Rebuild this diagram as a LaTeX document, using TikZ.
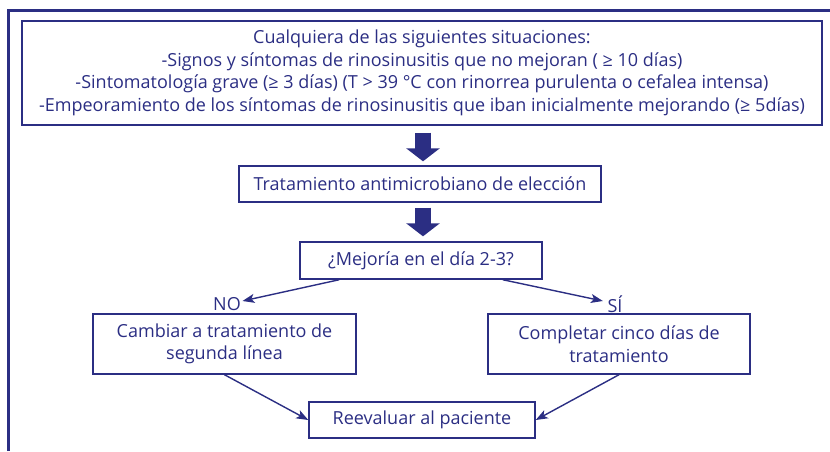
\documentclass[tikz,border=0pt]{standalone}
\usepackage{fontspec}
\setmainfont{Open Sans}
\usetikzlibrary{arrows.meta, positioning}
\definecolor{cnavy}{HTML}{2B2E83}
\tikzset{
  every picture/.style={font=\fontsize{18}{22.5}\selectfont, line width=1.4pt},
  box/.style={draw=cnavy, text=cnavy, align=center, inner sep=3pt},
  bigarrow/.style={-{Triangle[length=13pt, width=33pt]}, draw=cnavy, line width=16pt},
  thinarrow/.style={-{Stealth[length=12pt, width=9pt, inset=3pt]}, draw=cnavy, line width=1.4pt},
  answer/.style={text=cnavy, inner sep=1pt},
  frame/.style={draw=cnavy, line width=3pt},
}
\begin{document}
\begin{tikzpicture}[x=1pt, y=-1pt]
  \useasboundingbox (0,0) rectangle (830,451);
  \draw[frame] (8,451) -- (8,10) -- (830,10);
  % criteria
  \node[box, minimum width=800pt, minimum height=104pt] (crit) at (422,73)
    {Cualquiera de las siguientes situaciones:\\
     -Signos y síntomas de rinosinusitis que no mejoran ( ≥ 10 días)\\
     -Sintomatología grave (≥ 3 días) (T > 39 °C con rinorrea purulenta o cefalea intensa)\\
     -Empeoramiento de los síntomas de rinosinusitis que iban inicialmente mejorando (≥ 5días)};
  \node[box, minimum width=362pt, minimum height=36pt] (trat) at (420,184) {Tratamiento antimicrobiano de elección};
  \node[box, minimum width=242pt, minimum height=37pt] (mejora) at (421,260.5) {¿Mejoría en el día 2-3?};
  % answers
  \node[answer] (no) at (227,304) {NO};
  \node[answer] (si) at (615,304) {SÍ};
  \node[box, minimum width=263pt, minimum height=60pt] (cambio) at (224.5,344) {Cambiar a tratamiento de\\segunda línea};
  \node[box, minimum width=262pt, minimum height=60pt] (completa) at (619,344) {Completar cinco días de\\tratamiento};
  \node[box, minimum width=226pt, minimum height=36pt] (reeval) at (422,420) {Reevaluar al paciente};
  \draw[bigarrow, shorten <=7pt, shorten >=4pt] ([xshift=1pt]crit.south) -- ([xshift=1pt]crit.south |- trat.north);
  \draw[bigarrow, shorten <=5pt, shorten >=5pt] ([xshift=3pt]trat.south) -- ([xshift=3pt]trat.south |- mejora.north);
  \draw[thinarrow] ([xshift=40pt]mejora.south west) -- ([yshift=3pt]no.east);
  \draw[thinarrow] ([xshift=-40pt]mejora.south east) -- ([yshift=3pt, xshift=-3pt]si.west);
  \draw[thinarrow] (cambio.south) -- (reeval.west);
  \draw[thinarrow] (completa.south) -- (reeval.east);
\end{tikzpicture}
\end{document}
